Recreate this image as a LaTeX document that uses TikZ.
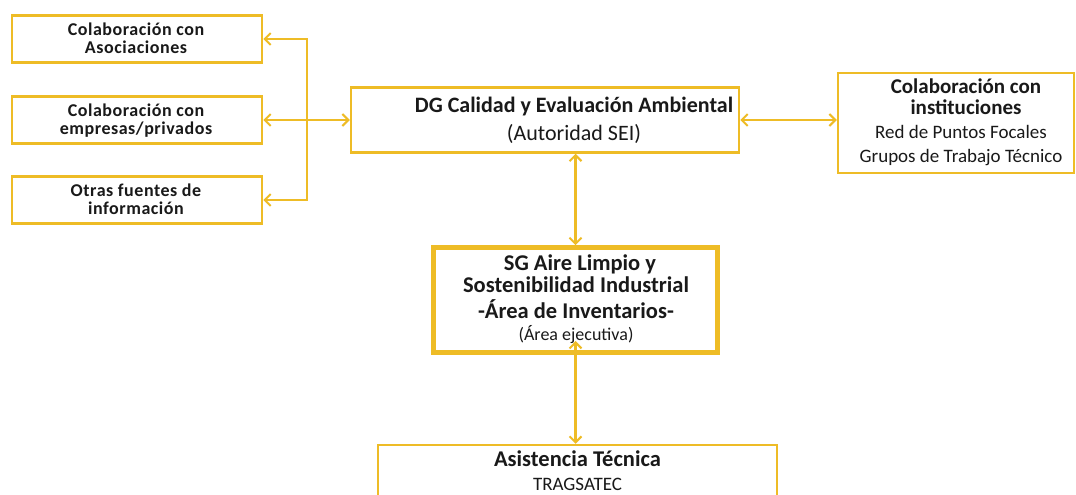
\documentclass[tikz,border=0pt]{standalone}
\usepackage{fontspec}
\setmainfont{Carlito}
\usetikzlibrary{arrows.meta,calc}
\definecolor{gold}{RGB}{238,188,38}
\definecolor{txt}{RGB}{25,25,25}
\tikzset{
  box/.style={draw=gold,line width=2.5pt,fill=white,inner sep=0pt},
  lbl/.style={anchor=base,inner sep=0pt,text=txt},
  two/.style={anchor=base,inner sep=0pt,text=txt,align=center,font=\bfseries\fontsize{18}{18}\selectfont\addfontfeature{LetterSpace=3}},
  barbtip/.tip={Straight Barb[length=6pt,width=12pt,line width=2pt]},
  conn/.style={draw=gold,line width=2.2pt,barbtip-barbtip},
  oneway/.style={draw=gold,line width=2.2pt,-barbtip}
}
\begin{document}
\begin{tikzpicture}[x=1pt,y=-1pt]
\useasboundingbox[fill=white] (0,0) rectangle (1076,495);
% boxes
\node[box,minimum width=250pt,minimum height=47pt] (A) at (137,39) {};
\node[box,minimum width=250pt,minimum height=47pt] (B) at (137,120) {};
\node[box,minimum width=250pt,minimum height=47pt] (C) at (137,200) {};
\node[box,minimum width=388pt,minimum height=65pt] (DG) at (545,120) {};
\node[box,minimum width=236pt,minimum height=100pt] (R) at (956,123) {};
\node[box,line width=4.8pt,minimum width=284pt,minimum height=105pt] (SG) at (575.5,300) {};
\node[box,minimum width=399pt,minimum height=60pt] (AT) at (577.5,475) {};
% texts (base anchor = baseline of the last line)
\node[two] (a1) at (136,54) {Colaboración con\\Asociaciones};
\node[two] (b1) at (136,134) {Colaboración con\\empresas/privados};
\node[two] (c1) at (136,214.5) {Otras fuentes de\\información};
\node[lbl,font=\bfseries\fontsize{22}{22}\selectfont] (dg1) at (574,112) {DG Calidad y Evaluación Ambiental};
\node[lbl,font=\fontsize{22}{22}\selectfont] (dg2) at (574,140) {(Autoridad SEI)};
\node[lbl,font=\bfseries\fontsize{21}{21}\selectfont] (r1) at (966,93) {Colaboración con};
\node[lbl,font=\bfseries\fontsize{21}{21}\selectfont] (r2) at (966,114) {instituciones};
\node[lbl,font=\fontsize{19}{19}\selectfont] (r3) at (961,138) {Red de Puntos Focales};
\node[lbl,font=\fontsize{19}{19}\selectfont] (r4) at (961,162) {Grupos de Trabajo Técnico};
\begin{scope}[font=\bfseries\fontsize{22.5}{22.5}\selectfont]
\node[lbl] (s1) at (580,270) {SG Aire Limpio y};
\node[lbl] (s2) at (576,292) {Sostenibilidad Industrial};
\node[lbl] (s3) at (576,318) {-Área de Inventarios-};
\end{scope}
\node[lbl,font=\fontsize{18}{18}\selectfont] (s4) at (576,340) {(Área ejecutiva)};
\node[lbl,font=\bfseries\fontsize{22.5}{22.5}\selectfont] (t1) at (577.5,466) {Asistencia Técnica};
\node[lbl,font=\fontsize{19}{19}\selectfont] (t2) at (577.5,490) {TRAGSATEC};
% connectors
\coordinate (j) at (307,120);
\coordinate (sgin) at (575.5,341);
\draw[conn] (B.east) -- (DG.west);
\draw[oneway] (j) |- (A.east);
\draw[oneway] (j) |- (C.east);
\draw[conn] (DG.east) -- (DG.east -| R.west);
\draw[conn] (SG.north |- DG.south) -- (SG.north);
\draw[conn] (SG.south |- AT.north) -- (sgin);
\end{tikzpicture}
\end{document}
